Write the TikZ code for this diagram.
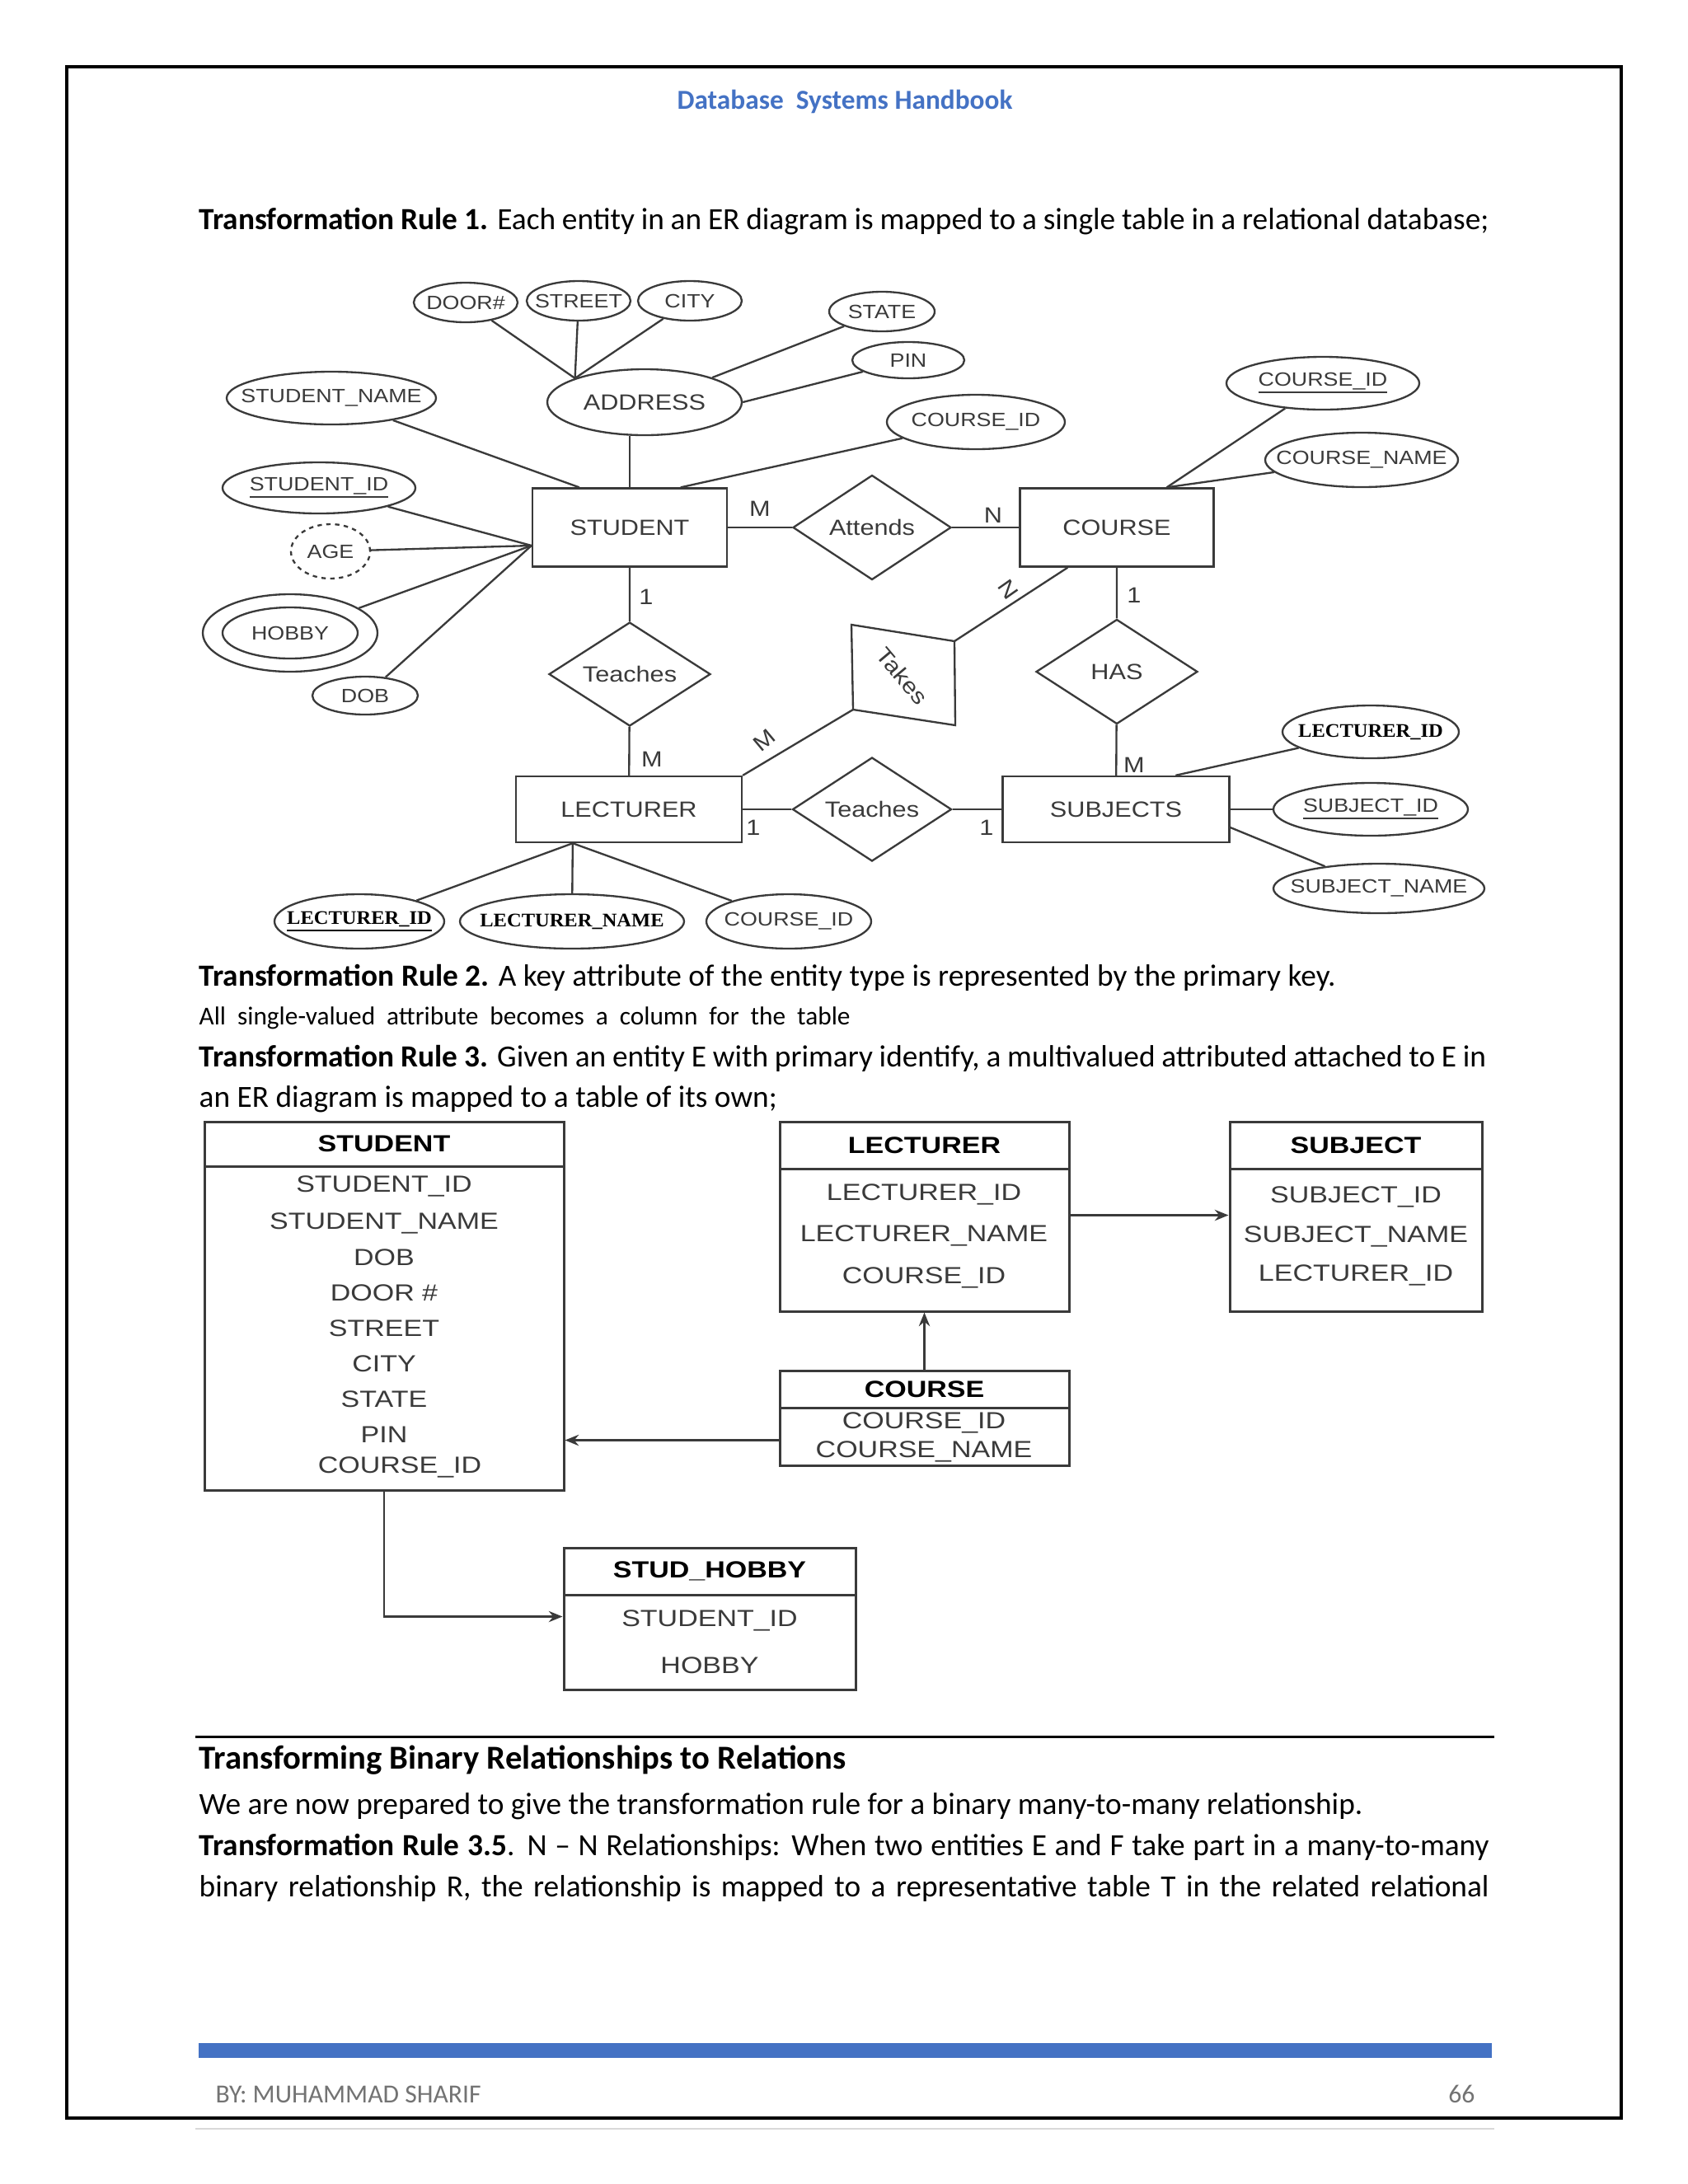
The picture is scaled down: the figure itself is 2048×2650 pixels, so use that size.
\documentclass[tikz,border=0pt]{standalone}
\usepackage{fontspec}
\setmainfont{Carlito}
\newfontfamily\erfont[FakeStretch=1.15]{Liberation Sans}
\newfontfamily\tabfont[FakeStretch=1.2]{Liberation Sans}
\newfontfamily\erserif[FakeStretch=1.05]{Liberation Serif}
\usetikzlibrary{shapes.geometric,arrows.meta,calc}
\definecolor{hdblue}{HTML}{4472C4}
\definecolor{ink}{HTML}{3A3A3A}
\newcommand\keyline[1]{\setbox0=\hbox{#1}\leavevmode\rlap{\rule[-2.6pt]{\wd0}{0.7pt}}\box0}
\newcommand\fit[1]{\makebox[0pt]{#1}}
\tikzset{
  sz/.style 2 args={minimum width=#1*0.3pt, minimum height=#2*0.3pt},
  entity/.style={draw=ink, line width=0.7pt, inner sep=0pt, text=ink,
    font=\erfont\fontsize{8}{9}\selectfont},
  rel/.style={diamond, draw=ink, line width=0.7pt, inner sep=0pt, aspect=1.5, text=ink,
    font=\erfont\fontsize{8}{9}\selectfont},
  attr/.style={ellipse, draw=ink, line width=0.7pt, inner sep=0pt, text=ink,
    font=\erfont\fontsize{7}{8}\selectfont},
  sattr/.style={attr, text=black, font=\erserif\bfseries\fontsize{7}{8}\selectfont},
  card/.style={inner sep=0pt, text=ink, font=\erfont\fontsize{8}{9}\selectfont},
  tabhead/.style={draw=ink, line width=0.9pt, inner sep=0pt, text=black,
    font=\tabfont\bfseries\fontsize{8.5}{10}\selectfont},
  tabbody/.style={draw=ink, line width=0.9pt, inner sep=0pt},
  tabrow/.style={inner sep=0pt, text=ink, font=\tabfont\fontsize{8.5}{10}\selectfont},
  fk/.style={draw=ink, line width=0.8pt, -{Stealth[length=5pt,width=4pt]}},
  bodyline/.style={anchor=base west, inner sep=0pt, font=\fontsize{11.2}{13}\selectfont},
}
\begin{document}
\begin{tikzpicture}[x=0.3pt, y=-0.3pt]
  \useasboundingbox (0,0) rectangle (2048,2650);
  \draw [line width=1pt] (81,81) rectangle (1967,2570);
  \node [text=hdblue, font=\bfseries\fontsize{10}{12}\selectfont, anchor=base] (head) at (1025,132) {Database\ \ Systems Handbook};

  % page text
  \node [bodyline] (rule1) at (241,278) {\makebox[469.5pt][s]{\textbf{Transformation Rule 1.} Each entity in an ER diagram is mapped to a single table in a relational database;}};
  \node [bodyline] (rule2) at (241,1196) {\textbf{Transformation Rule 2.} A key attribute of the entity type is represented by the primary key.};
  \node [bodyline, font=\fontsize{9.4}{11}\selectfont] (single) at (241,1243) {\makebox[237pt][s]{All single-valued attribute becomes a column for the table}};
  \node [bodyline] (rule3) at (241,1294) {\makebox[468.5pt][s]{\textbf{Transformation Rule 3.} Given an entity E with primary identify, a multivalued attributed attached to E in}};
  \node [bodyline] (rule3b) at (241,1343) {an ER diagram is mapped to a table of its own;};

  % ER diagram: entities and relationships
  \node [entity, sz={236}{95}] (student) at (764,640) {STUDENT};
  \node [entity, sz={235}{95}] (course) at (1355,640) {COURSE};
  \node [entity, sz={274}{80}] (lecturer) at (763,982) {LECTURER};
  \node [entity, sz={275}{80}] (subjects) at (1354,982) {SUBJECTS};
  \node [rel, sz={192}{127}] (attends) at (1058,640) {Attends};
  \node [rel, sz={196}{126}] (teachup) at (764,818) {Teaches};
  \node [rel, sz={196}{127}] (has) at (1355,815) {HAS};
  \node [rel, sz={193}{126}] (teachlow) at (1058,982) {Teaches};
  \coordinate (tk1) at (1033,758);
  \coordinate (tk2) at (1158,778);
  \coordinate (tk3) at (1159,880);
  \coordinate (tk4) at (1035,861);
  \draw [draw=ink, line width=0.7pt] (tk1) -- (tk2) -- (tk3) -- (tk4) -- cycle;
  \node [card, rotate=-50] (takes) at (1095,820) {Takes};

  % attributes
  \node [attr, sz={126}{48}] (door) at (565,367) {\fit{DOOR\#}};
  \node [attr, sz={126}{48}] (street) at (702,365) {\fit{STREET}};
  \node [attr, sz={126}{48}] (city) at (837,365) {\fit{CITY}};
  \node [attr, sz={128}{48}] (state) at (1070,378) {\fit{STATE}};
  \node [attr, sz={136}{44}] (pin) at (1102,437) {\fit{PIN}};
  \node [attr, sz={236}{80}, font=\erfont\fontsize{8}{9}\selectfont] (addr) at (782,488) {\fit{ADDRESS}};
  \node [attr, sz={216}{66}] (stcid) at (1184,512) {\fit{COURSE\_ID}};
  \node [attr, sz={234}{64}] (crsid) at (1605,465) {\fit{\keyline{COURSE\_ID}}};
  \node [attr, sz={234}{66}] (crsname) at (1652,558) {\fit{COURSE\_NAME}};
  \node [attr, sz={254}{64}] (stname) at (402,483) {\fit{STUDENT\_NAME}};
  \node [attr, sz={234}{62}] (stid) at (387,592) {\fit{\keyline{STUDENT\_ID}}};
  \node [attr, sz={96}{66}, dash pattern=on 1.6pt off 1.6pt] (age) at (401,669) {\fit{AGE}};
  \node [attr, sz={212}{94}] (hobby) at (352,768) {};
  \node [attr, sz={164}{62}] (hobbyin) at (352,768) {\fit{HOBBY}};
  \node [attr, sz={128}{46}] (dob) at (443,844) {\fit{DOB}};
  \node [sattr, sz={206}{66}] (lecid) at (436,1118) {\fit{\keyline{LECTURER\_ID}}};
  \node [sattr, sz={272}{66}] (lecname) at (694,1118) {\fit{LECTURER\_NAME}};
  \node [attr, sz={200}{66}] (leccid) at (957,1118) {\fit{COURSE\_ID}};
  \node [sattr, sz={214}{64}] (sublid) at (1663,888) {\fit{LECTURER\_ID}};
  \node [attr, sz={236}{64}] (subid) at (1663,982) {\fit{\keyline{SUBJECT\_ID}}};
  \node [attr, sz={256}{60}] (subname) at (1673,1078) {\fit{SUBJECT\_NAME}};

  % connectors
  \begin{scope}[draw=ink, line width=0.7pt]
    \coordinate (stleft) at ($(student.west)+(0,22)$);
    \coordinate (crstop) at ($(course.north east)+(-58,0)$);
    \coordinate (lecbot) at ($(lecturer.south west)+(70,0)$);
    \draw (door) -- (addr.161);
    \draw (street) -- (addr.161);
    \draw (city) -- (addr.161);
    \draw (state) -- (addr.20);
    \draw (pin) -- (addr.east);
    \draw (student.north) -- (student.north |- addr.south);
    \draw (stname) -- ($(student.north west)+(58,0)$);
    \draw (stcid) -- ($(student.north west)+(181,0)$);
    \draw (stid) -- (stleft);
    \draw (age) -- (stleft);
    \draw (hobby) -- (stleft);
    \draw (dob) -- (stleft);
    \draw (crsid) -- (crstop);
    \draw (crsname) -- (crstop);
    \draw (lecid) -- (lecbot);
    \draw (lecname) -- (lecbot);
    \draw (leccid) -- (lecbot);
    \draw (sublid) -- ($(subjects.north west)+(211,0)$);
    \draw (subid) -- (subjects.east |- subid);
    \draw (subname) -- ($(subjects.east)+(0,22)$);
    \draw (student) -- (attends) -- (course);
    \draw (student) -- (teachup) -- (lecturer);
    \draw (course) -- (has) -- (subjects);
    \draw (lecturer) -- (teachlow) -- (subjects);
    \draw ($(course.south west)+(59,0)$) -- (tk2);
    \draw (lecturer.north east) -- (tk4);
  \end{scope}
  \node [card] (cm1) at (922,617) {M};
  \node [card] (cn1) at (1205,625) {N};
  \node [card] (c11) at (784,724) {1};
  \node [card] (cm2) at (791,921) {M};
  \node [card] (c12) at (1376,722) {1};
  \node [card] (cm3) at (1376,928) {M};
  \node [card] (c13) at (914,1004) {1};
  \node [card] (c14) at (1197,1004) {1};
  \node [card, rotate=-55] (cn2) at (1223,715) {N};
  \node [card, rotate=40] (cm4) at (927,898) {M};

  % tables
  \node [tabhead, sz={436}{54}] (tsth) at (466,1388) {STUDENT};
  \node [tabbody, sz={436}{393}] (tstb) at (466,1611.5) {};
  \node [tabhead, sz={351}{57}] (tlech) at (1121.5,1389.5) {LECTURER};
  \node [tabbody, sz={351}{173}] (tlecb) at (1121.5,1504.5) {};
  \node [tabhead, sz={306}{57}] (tsubh) at (1645,1389.5) {SUBJECT};
  \node [tabbody, sz={306}{173}] (tsubb) at (1645,1504.5) {};
  \node [tabhead, sz={351}{45}] (tcrsh) at (1121.5,1685.5) {COURSE};
  \node [tabbody, sz={351}{70}] (tcrsb) at (1121.5,1743) {};
  \node [tabhead, sz={354}{57}] (thobh) at (861,1906.5) {STUD\_HOBBY};
  \node [tabbody, sz={354}{115}] (thobb) at (861,1992.5) {};

  \node [tabrow] (r1) at (466,1439) {STUDENT\_ID};
  \node [tabrow] (r2) at (466,1484) {STUDENT\_NAME};
  \node [tabrow] (r3) at (466,1526) {DOB};
  \node [tabrow] (r4) at (466,1569) {DOOR \#};
  \node [tabrow] (r5) at (466,1612) {STREET};
  \node [tabrow] (r6) at (466,1655) {CITY};
  \node [tabrow] (r7) at (466,1698) {STATE};
  \node [tabrow] (r8) at (466,1741) {PIN};
  \node [tabrow] (r9) at (485,1780) {COURSE\_ID};
  \node [tabrow] (r10) at (1121,1449) {LECTURER\_ID};
  \node [tabrow] (r11) at (1121,1499) {LECTURER\_NAME};
  \node [tabrow] (r12) at (1121,1550) {COURSE\_ID};
  \node [tabrow] (r13) at (1645,1452) {SUBJECT\_ID};
  \node [tabrow] (r14) at (1645,1500) {SUBJECT\_NAME};
  \node [tabrow] (r15) at (1645,1547) {LECTURER\_ID};
  \node [tabrow] (r16) at (1121,1726) {COURSE\_ID};
  \node [tabrow] (r17) at (1121,1761) {COURSE\_NAME};
  \node [tabrow] (r18) at (861,1966) {STUDENT\_ID};
  \node [tabrow] (r19) at (861,2021) {HOBBY};

  \coordinate (crsfk) at ($(tcrsb.north west)+(0,41)$);
  \coordinate (hobfk) at ($(thobb.north west)+(0,28)$);
  \draw [fk] ($(tlecb.north east)+(0,58)$) -- ($(tsubb.north west)+(0,58)$);
  \draw [fk] (tcrsh.north) -- (tlecb.south);
  \draw [fk] (crsfk) -- (crsfk -| tstb.east);
  \draw [fk] (tstb.south) |- (hobfk);

  % lower text
  \draw [line width=0.9pt] (237,2107) -- (1813,2107);
  \node [bodyline, font=\bfseries\fontsize{12.2}{14}\selectfont] (sect) at (241,2146) {Transforming Binary Relationships to Relations};
  \node [bodyline] (intro) at (241,2201) {We are now prepared to give the transformation rule for a binary many-to-many relationship.};
  \node [bodyline] (rule35) at (241,2251) {\makebox[469.5pt][s]{\textbf{Transformation Rule 3.5}. N -- N Relationships: When two entities E and F take part in a many-to-many}};
  \node [bodyline] (rule35b) at (241,2301) {\makebox[469.5pt][s]{binary relationship R, the relationship is mapped to a representative table T in the related relational}};

  % footer
  \fill [hdblue] (241,2479) rectangle (1810,2497);
  \node [bodyline, text=black!55, font=\fontsize{9.5}{11}\selectfont] (author) at (261,2551) {BY: MUHAMMAD SHARIF};
  \node [anchor=base east, inner sep=0pt, text=black!55, font=\fontsize{9.5}{11}\selectfont] (pageno) at (1790,2551) {66};
  \draw [black!15, line width=0.8pt] (237,2583) -- (1813,2583);
\end{tikzpicture}
\end{document}
